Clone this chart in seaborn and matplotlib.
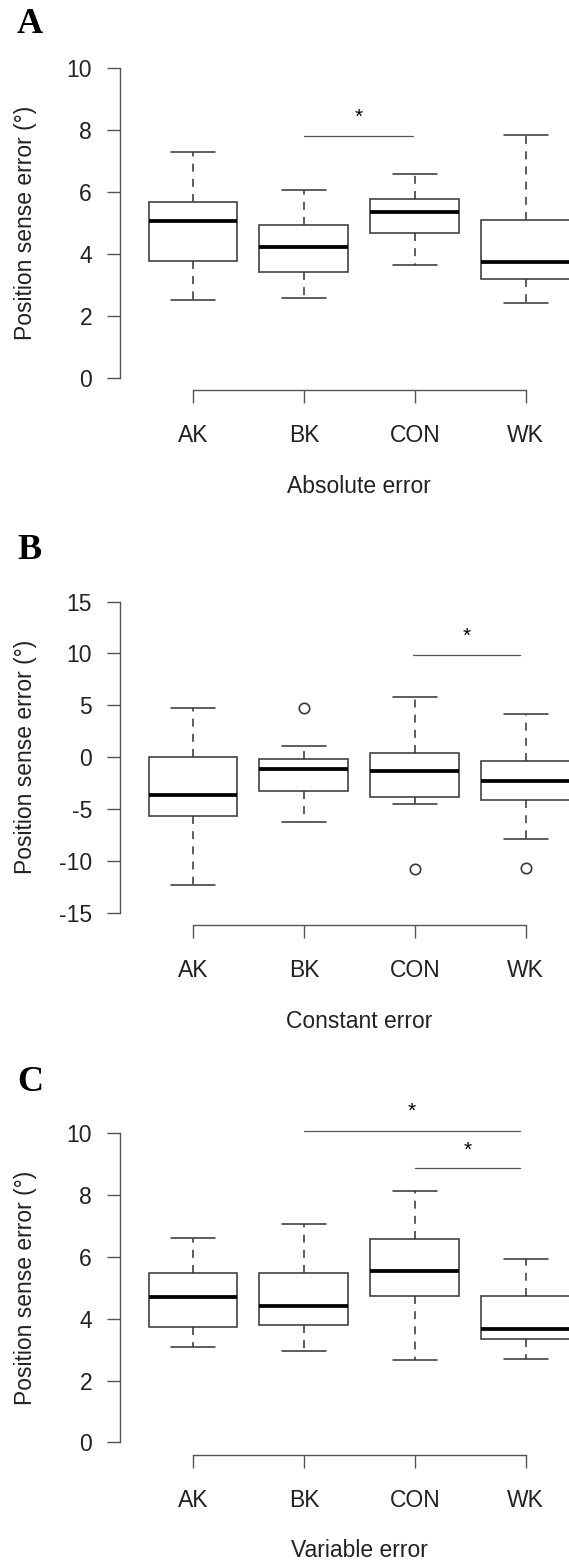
import numpy as np
import pandas as pd
import matplotlib
matplotlib.use("Agg")
import matplotlib.pyplot as plt
import seaborn as sns

groups = ["AK", "BK", "CON", "WK"]

# Absolute error: lower whisker, Q1, median, Q3, upper whisker per group
abs_low = [2.51, 2.58, 3.65, 2.42]
abs_q1 = [3.76, 3.41, 4.69, 3.19]
abs_med = [5.08, 4.23, 5.37, 3.75]
abs_q3 = [5.68, 4.92, 5.79, 5.11]
abs_high = [7.29, 6.07, 6.57, 7.85]

# Constant error
con_low = [-12.3, -6.29, -4.55, -7.86]
con_q1 = [-5.68, -3.30, -3.87, -4.13]
con_med = [-3.65, -1.17, -1.30, -2.27]
con_q3 = [0.0, -0.18, 0.37, -0.40]
con_high = [4.77, 1.11, 5.77, 4.20]
con_out_group = ["BK", "CON", "WK"]
con_out_value = [4.77, -10.76, -10.70]

# Variable error
var_low = [3.09, 2.97, 2.66, 2.69]
var_q1 = [3.73, 3.81, 4.74, 3.34]
var_med = [4.69, 4.42, 5.56, 3.68]
var_q3 = [5.49, 5.49, 6.59, 4.74]
var_high = [6.61, 7.08, 8.14, 5.94]

# significance bars: start, end (category index), bar height, star height
abs_sig = [(1.0, 1.98, 7.82, 8.42)]
con_sig = [(1.98, 2.95, 9.83, 11.69)]
var_sig = [(1.0, 2.95, 10.08, 10.70), (2.0, 2.95, 8.87, 9.46)]

sns.set_style("ticks")
plt.rcParams["font.family"] = ["Liberation Sans", "DejaVu Sans"]

W, H = 569, 1564
fig = plt.figure(figsize=(W / 100, H / 100), dpi=100)

panels = [
    dict(letter="A", base=33, top=55.6, bottom=390.4,
         stats=(abs_low, abs_q1, abs_med, abs_q3, abs_high),
         outg=[], outv=[], ylim=(-0.4, 10.4), yticks=np.arange(0, 11, 2),
         xlabel="Absolute error", sig=abs_sig),
    dict(letter="B", base=559, top=589.2, bottom=925.1,
         stats=(con_low, con_q1, con_med, con_q3, con_high),
         outg=con_out_group, outv=con_out_value, ylim=(-16.2, 16.2),
         yticks=np.arange(-15, 16, 5), xlabel="Constant error", sig=con_sig),
    dict(letter="C", base=1091, top=1121.0, bottom=1454.7,
         stats=(var_low, var_q1, var_med, var_q3, var_high),
         outg=[], outv=[], ylim=(-0.4, 10.4), yticks=np.arange(0, 11, 2),
         xlabel="Variable error", sig=var_sig),
]

left_px, right_px = 119.7, 599.0
line_c = "#3a3a3a"
axis_c = "#555555"
text_c = "#222222"

for p in panels:
    h_px = p["bottom"] - p["top"]
    ax = fig.add_axes([left_px / W, 1 - p["bottom"] / H,
                       (right_px - left_px) / W, h_px / H])
    ax.set_facecolor("white")

    rows = []
    for i, g in enumerate(groups):
        for s in p["stats"]:
            rows.append({"group": g, "value": s[i]})
    df = pd.DataFrame(rows)

    sns.boxplot(data=df, x="group", y="value", order=groups, ax=ax,
                color="white", linecolor=line_c, linewidth=1.15, width=0.8,
                medianprops={"color": "black", "linewidth": 2.7},
                whiskerprops={"linestyle": (0, (5, 4.5))},
                showfliers=False)

    if p["outv"]:
        out = pd.DataFrame({"group": p["outg"], "value": p["outv"]})
        sns.stripplot(data=out, x="group", y="value", order=groups, ax=ax,
                      jitter=False, color="white", edgecolor=line_c,
                      linewidth=1.2, size=7.5, zorder=5)

    for x0, x1, yb, ys in p["sig"]:
        ax.plot([x0, x1], [yb, yb], color="#555555", lw=0.9, clip_on=False)
        ax.text((x0 + x1) / 2, ys, "*", ha="center", va="center",
                fontsize=15, color="black", clip_on=False)

    ax.set_xlim(-0.66, 3.66)
    ax.set_ylim(*p["ylim"])
    ax.set_yticks(p["yticks"])
    ax.set_yticklabels([str(v) for v in p["yticks"]])
    ax.tick_params(axis="both", direction="out", length=9.4, width=1.0,
                   color=axis_c, labelsize=16.5, labelcolor=text_c)
    ax.tick_params(axis="x", pad=15)
    ax.tick_params(axis="y", pad=10.5)
    sns.despine(ax=ax, trim=True)
    for side in ["left", "bottom"]:
        ax.spines[side].set_color(axis_c)
        ax.spines[side].set_linewidth(1.0)

    ax.set_xlabel(p["xlabel"], fontsize=16.5, color=text_c, va="center")
    ax.xaxis.set_label_coords(0.5, -96 / h_px)
    ax.set_ylabel("Position sense error (°)", fontsize=16.5, color=text_c,
                  va="center")
    ax.yaxis.set_label_coords((26 - left_px) / (right_px - left_px), 0.5)

    fig.text(17 / W, 1 - p["base"] / H, p["letter"], ha="left",
             va="baseline", fontsize=26, fontweight="bold",
             family="Liberation Serif", color="black")

fig.savefig("out.png", dpi=100)
